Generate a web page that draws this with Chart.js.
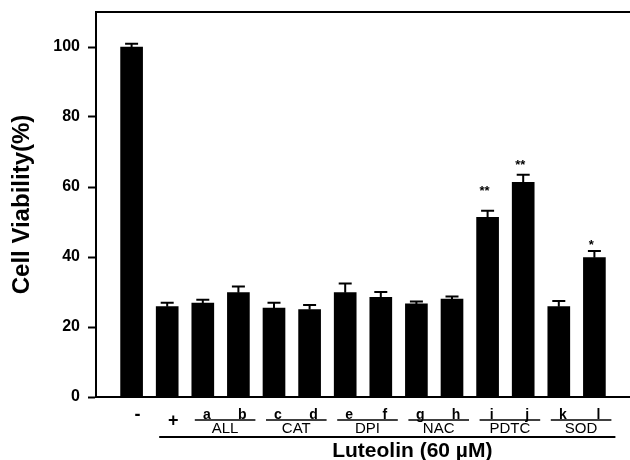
<!DOCTYPE html>
<html>
<head>
<meta charset="utf-8">
<script src="https://cdn.jsdelivr.net/npm/chart.js@4"></script>
<style>
  html, body { margin: 0; padding: 0; background: #fff; }
  #wrap { width: 630px; height: 460px; }
</style>
</head>
<body>
<div id="wrap"><canvas id="viabilityChart"></canvas></div>
<script>
// ---- DATA ----
const categories = ['-', '+', 'a', 'b', 'c', 'd', 'e', 'f', 'g', 'h', 'i', 'j', 'k', 'l'];
const viability = [100, 25.8, 26.8, 29.8, 25.4, 25.0, 29.8, 28.5, 26.6, 28.0, 51.3, 61.3, 25.8, 39.8];
const sem = [0.9, 1.1, 1.0, 1.8, 1.5, 1.3, 2.6, 1.5, 0.7, 0.7, 1.9, 2.2, 1.6, 1.9];
const stars = ['', '', '', '', '', '', '', '', '', '', '**', '**', '', '*'];
const starAt = [null, null, null, null, null, null, null, null, null, null, 58.7, 66.1, null, 43.4];
const groups = ['ALL', 'CAT', 'DPI', 'NAC', 'PDTC', 'SOD'];
const yMin = 0, yMax = 110, yStep = 20;
const yTitle = 'Cell Viability(%)';
const xTitle = 'Luteolin (60 \u00B5M)';

// empty slot at both ends of the axis
const axisLabels = [''].concat(categories, ['']);
const barData = [null].concat(viability, [null]);

const FONT = '"Liberation Sans", Arial, sans-serif';

// ---- error bars, stars, group brackets ----
const annotations = {
  id: 'annotations',
  afterDatasetsDraw(chart) {
    const { ctx, chartArea: a, scales: { x, y } } = chart;
    ctx.save();
    ctx.strokeStyle = '#000';
    ctx.fillStyle = '#000';

    // top frame line
    ctx.lineWidth = 2;
    ctx.beginPath();
    ctx.moveTo(a.left - 1, a.top);
    ctx.lineTo(a.right, a.top);
    ctx.stroke();

    // error bars (upper half only) + significance
    categories.forEach((c, i) => {
      const px = x.getPixelForValue(i + 1);
      const y0 = y.getPixelForValue(viability[i]);
      const y1 = y.getPixelForValue(viability[i] + sem[i]);
      ctx.lineWidth = 2;
      ctx.beginPath();
      ctx.moveTo(px, y0);
      ctx.lineTo(px, y1);
      ctx.moveTo(px - 6.5, y1);
      ctx.lineTo(px + 6.5, y1);
      ctx.stroke();
      if (stars[i]) {
        ctx.font = 'bold 13px ' + FONT;
        ctx.textAlign = 'center';
        ctx.textBaseline = 'middle';
        ctx.fillText(stars[i], px - 3, y.getPixelForValue(starAt[i]));
      }
    });

    // first row of x labels
    ctx.textAlign = 'center';
    categories.forEach((c, i) => {
      const px = x.getPixelForValue(i + 1);
      if (i < 2) {
        ctx.font = 'bold 18px ' + FONT;
        ctx.textBaseline = 'middle';
        ctx.fillText(c, px + 6, i === 0 ? 415 : 421);
      } else {
        ctx.font = 'bold 14px ' + FONT;
        ctx.textBaseline = 'alphabetic';
        ctx.fillText(c, px + 4, 418.5);
      }
    });

    // group brackets
    groups.forEach((g, k) => {
      const p1 = x.getPixelForValue(3 + k * 2);
      const p2 = x.getPixelForValue(4 + k * 2);
      const l = p1 - 8, r = p2 + 17;
      ctx.lineWidth = 1.5;
      ctx.beginPath();
      ctx.moveTo(l, 420);
      ctx.lineTo(r, 420);
      ctx.stroke();
      ctx.font = '15px ' + FONT;
      ctx.textBaseline = 'alphabetic';
      ctx.fillText(g, (l + r) / 2, 433);
    });

    // long treatment line + title
    const lx = x.getPixelForValue(2) - 8;
    const rx = x.getPixelForValue(categories.length) + 21;
    ctx.lineWidth = 2;
    ctx.beginPath();
    ctx.moveTo(lx, 437);
    ctx.lineTo(rx, 437);
    ctx.stroke();
    ctx.font = 'bold 21px ' + FONT;
    ctx.textBaseline = 'alphabetic';
    ctx.fillText(xTitle, (lx + rx) / 2 + 25, 457);

    ctx.restore();
  }
};

new Chart(document.getElementById('viabilityChart'), {
  type: 'bar',
  data: {
    labels: axisLabels,
    datasets: [{
      data: barData,
      backgroundColor: '#000',
      borderWidth: 0,
      barThickness: 22
    }]
  },
  options: {
    responsive: true,
    maintainAspectRatio: false,
    animation: false,
    layout: { padding: { top: 12, right: 0, bottom: 0, left: 0 } },
    plugins: { legend: { display: false }, tooltip: { enabled: false } },
    scales: {
      x: {
        offset: false,
        grid: { display: false },
        border: { display: true, color: '#000', width: 2 },
        ticks: { display: false },
        afterFit(scale) { scale.height = 63; scale.paddingLeft = 0; scale.paddingRight = 0; }
      },
      y: {
        min: yMin,
        max: yMax,
        border: { display: true, color: '#000', width: 2 },
        grid: { drawOnChartArea: false, color: '#000', tickColor: '#000', tickLength: 8, tickWidth: 2 },
        ticks: {
          stepSize: yStep,
          includeBounds: false,
          color: '#000',
          padding: 8,
          font: { family: FONT, size: 16, weight: 'bold' }
        },
        title: {
          display: true,
          text: yTitle,
          color: '#000',
          padding: { top: 8, bottom: 0 },
          font: { family: FONT, size: 24, weight: 'bold' }
        },
        afterFit(scale) { scale.width = 96; scale.paddingTop = 0; scale.paddingBottom = 0; }
      }
    }
  },
  plugins: [annotations]
});
</script>
</body>
</html>
